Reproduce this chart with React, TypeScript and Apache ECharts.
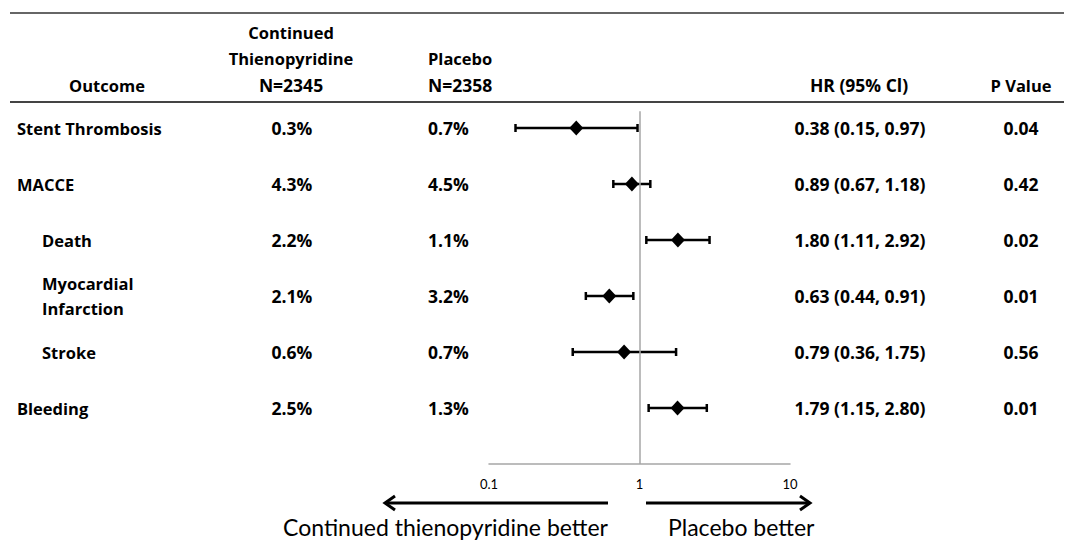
import React, { useEffect, useRef } from "react";
import * as echarts from "echarts";

const outcomes = ["Stent Thrombosis", "MACCE", "Death", "Myocardial\nInfarction", "Stroke", "Bleeding"];
const levels = [0, 0, 1, 1, 1, 0];
const contRates = ["0.3%", "4.3%", "2.2%", "2.1%", "0.6%", "2.5%"];
const placeboRates = ["0.7%", "4.5%", "1.1%", "3.2%", "0.7%", "1.3%"];
const hr = [0.38, 0.89, 1.8, 0.63, 0.79, 1.79];
const ciLow = [0.15, 0.67, 1.11, 0.44, 0.36, 1.15];
const ciHigh = [0.97, 1.18, 2.92, 0.91, 1.75, 2.8];
const pValues = ["0.04", "0.42", "0.02", "0.01", "0.56", "0.01"];
const xTicks = [0.1, 1, 10];

const FONT = "Lato, 'Open Sans', sans-serif";
const BFONT = "'Open Sans', Lato, sans-serif";

export default function App() {
  const ref = useRef<HTMLDivElement>(null);
  useEffect(() => {
    document.body.style.margin = "0";
    const chart = echarts.init(ref.current!, null, { renderer: "svg" });

    const rowY = (i: number) => 128 + i * 56;
    const bold = (size: number) => `bold ${size}px ${BFONT}`;
    const BS = 16.5;
    const NS = 17.5;
    const graphics: any[] = [];
    const txt = (text: string, x: number, y: number, align: string, font: string, extra: any = {}) =>
      graphics.push({
        type: "text",
        x,
        y,
        style: { text, font, fill: "#000", textAlign: align, textVerticalAlign: "middle", ...extra },
      });

    // header lines
    graphics.push({ type: "line", shape: { x1: 10, y1: 13, x2: 1064, y2: 13 }, style: { stroke: "#333", lineWidth: 1.5 } });
    graphics.push({ type: "line", shape: { x1: 10, y1: 102, x2: 1064, y2: 102 }, style: { stroke: "#444", lineWidth: 2 } });

    // headers
    txt("Outcome", 107, 85, "center", bold(BS));
    txt("Continued", 291, 32, "center", bold(BS));
    txt("Thienopyridine", 291, 58, "center", bold(BS));
    txt("N=2345", 291, 85, "center", bold(NS));
    txt("Placebo", 428, 58, "left", bold(BS));
    txt("N=2358", 428, 85, "left", bold(NS));
    txt("HR (95% Cl)", 859, 85, "center", bold(NS));
    txt("P Value", 1021, 85, "center", bold(BS));

    outcomes.forEach((o, i) => {
      const y = rowY(i);
      txt(o, levels[i] ? 42 : 17, y, "left", bold(BS), { lineHeight: 25 });
      txt(contRates[i], 292, y, "center", bold(NS));
      txt(placeboRates[i], 428, y, "left", bold(NS));
      txt(`${hr[i].toFixed(2)} (${ciLow[i].toFixed(2)}, ${ciHigh[i].toFixed(2)})`, 860, y, "center", bold(NS));
      txt(pValues[i], 1021, y, "center", bold(NS));
    });

    // bottom arrows
    const arrowY = 503;
    graphics.push({ type: "line", shape: { x1: 608, y1: arrowY, x2: 385, y2: arrowY }, style: { stroke: "#000", lineWidth: 3 } });
    graphics.push({ type: "polyline", shape: { points: [[395, arrowY - 7], [385, arrowY], [395, arrowY + 7]] }, style: { stroke: "#000", lineWidth: 3, fill: null } });
    graphics.push({ type: "line", shape: { x1: 646, y1: arrowY, x2: 810, y2: arrowY }, style: { stroke: "#000", lineWidth: 3 } });
    graphics.push({ type: "polyline", shape: { points: [[800, arrowY - 7], [810, arrowY], [800, arrowY + 7]] }, style: { stroke: "#000", lineWidth: 3, fill: null } });
    graphics.push({ type: "text", x: 608, y: 527, style: { text: "Continued thienopyridine better", font: `23px ${FONT}`, fill: "#000", textAlign: "right", textVerticalAlign: "middle" } });
    graphics.push({ type: "text", x: 668, y: 527, style: { text: "Placebo better", font: `23px ${FONT}`, fill: "#000", textAlign: "left", textVerticalAlign: "middle" } });

    const errData = hr.map((v, i) => [v, ciLow[i], ciHigh[i], i]);

    chart.setOption({
      animation: false,
      grid: { left: 489, right: 279, top: 111.2, bottom: 76 },
      xAxis: {
        type: "log",
        logBase: 10,
        min: 0.1,
        max: 10,
        axisLine: { show: true, onZero: false, lineStyle: { color: "#a6a6a6", width: 1.5 } },
        axisTick: { show: false },
        splitLine: { show: false },
        minorTick: { show: false },
        axisLabel: {
          margin: 13,
          fontSize: 13,
          color: "#000",
          fontFamily: FONT,
          formatter: (v: number) => (xTicks.some((t) => Math.abs(t - v) < 1e-9) ? String(v) : ""),
        },
      },
      yAxis: {
        type: "value",
        min: -0.3,
        max: 6,
        inverse: true,
        show: false,
      },
      series: [
        {
          type: "custom",
          data: errData,
          renderItem: (params: any, api: any) => {
            const y = api.value(3);
            const lo = api.coord([api.value(1), y]);
            const hi = api.coord([api.value(2), y]);
            const cap = 4;
            const st = { stroke: "#000", lineWidth: 2.5 };
            return {
              type: "group",
              children: [
                { type: "line", shape: { x1: lo[0], y1: lo[1], x2: hi[0], y2: hi[1] }, style: st },
                { type: "line", shape: { x1: lo[0], y1: lo[1] - cap, x2: lo[0], y2: lo[1] + cap }, style: st },
                { type: "line", shape: { x1: hi[0], y1: hi[1] - cap, x2: hi[0], y2: hi[1] + cap }, style: st },
              ],
            };
          },
          markLine: {
            silent: true,
            symbol: "none",
            label: { show: false },
            lineStyle: { color: "#a6a6a6", width: 1.5, type: "solid" },
            data: [{ xAxis: 1 }],
          },
          z: 2,
        },
        {
          type: "scatter",
          data: hr.map((v, i) => [v, i]),
          symbol: "diamond",
          symbolSize: [14, 15],
          itemStyle: { color: "#000", opacity: 1 },
          z: 3,
        },
      ],
      graphic: graphics,
    });
    return () => chart.dispose();
  }, []);
  return <div ref={ref} style={{ width: 1069, height: 540 }} />;
}
